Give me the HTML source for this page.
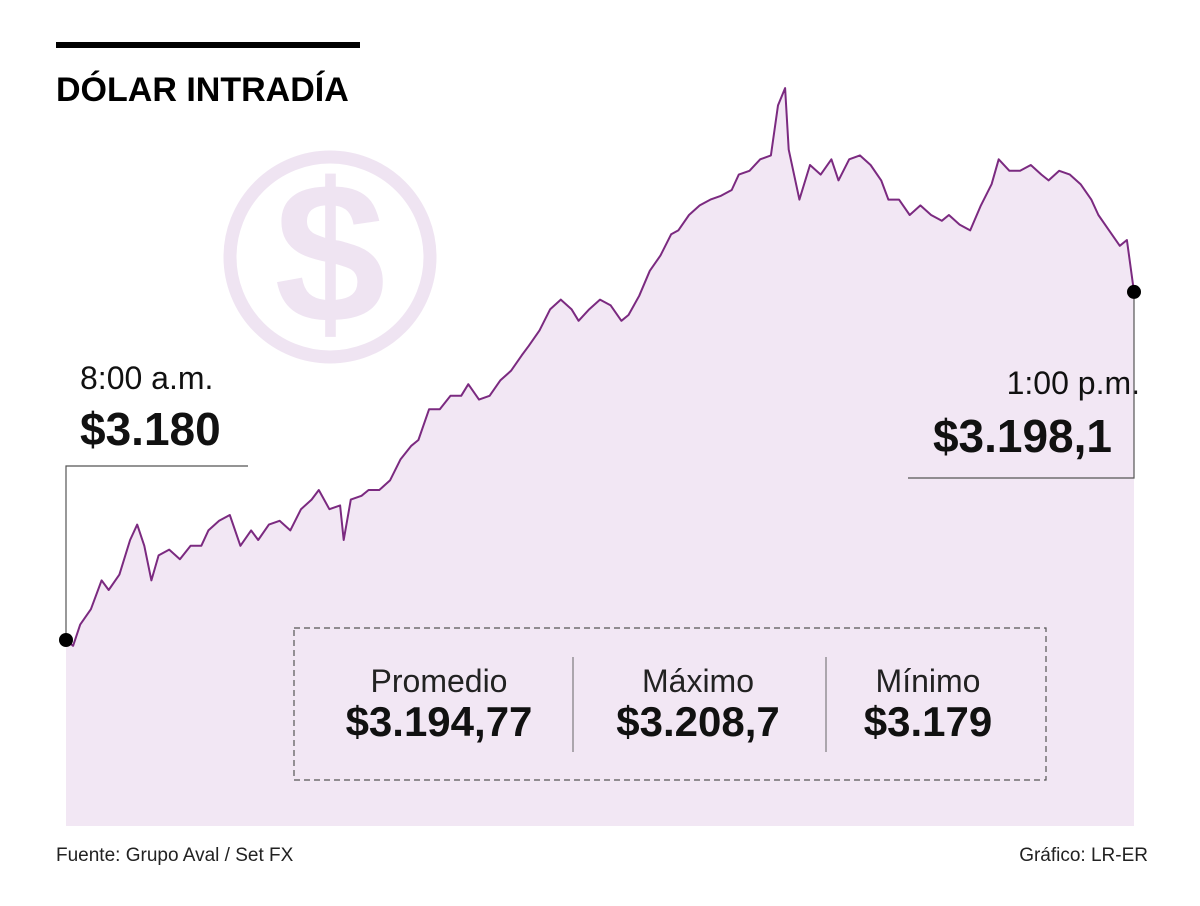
<!DOCTYPE html>
<html><head><meta charset="utf-8">
<style>
html,body{margin:0;padding:0;background:#fff;}
svg{display:block;font-family:"Liberation Sans",sans-serif;}
</style></head>
<body>
<svg id="chart" width="1200" height="906" viewBox="0 0 1200 906" xmlns="http://www.w3.org/2000/svg">
  <rect x="56" y="42" width="304" height="6" fill="#000"/>
  <text x="56" y="101" font-size="34" font-weight="bold" fill="#000">DÓLAR INTRADÍA</text>
  <g>
    <circle cx="330" cy="257" r="100" fill="none" stroke="#efe4f2" stroke-width="13"/>
    <text x="330" y="322" font-size="200" font-weight="bold" fill="#efe4f2" text-anchor="middle">$</text>
  </g>
  <g id="plot"></g>
  <g>
    <text x="80" y="389" font-size="32" fill="#111">8:00 a.m.</text>
    <text x="80" y="445" font-size="46" font-weight="bold" fill="#111">$3.180</text>
    <polyline points="248,466 66,466 66,640" fill="none" stroke="#555" stroke-width="1.2"/>
  </g>
  <g>
    <text x="1140" y="394" font-size="32" fill="#111" text-anchor="end">1:00 p.m.</text>
    <text x="1112" y="452" font-size="46" font-weight="bold" fill="#111" text-anchor="end">$3.198,1</text>
    <polyline points="908,478 1134,478 1134,292" fill="none" stroke="#555" stroke-width="1.2"/>
  </g>
  <g>
    <rect x="294" y="628" width="752" height="152" fill="none" stroke="#555" stroke-width="1.2" stroke-dasharray="6,4"/>
    <line x1="573" y1="657" x2="573" y2="752" stroke="#666" stroke-width="1"/>
    <line x1="826" y1="657" x2="826" y2="752" stroke="#666" stroke-width="1"/>
    <text x="439" y="692" font-size="32" fill="#222" text-anchor="middle">Promedio</text>
    <text x="439" y="736" font-size="42" font-weight="bold" fill="#111" text-anchor="middle">$3.194,77</text>
    <text x="698" y="692" font-size="32" fill="#222" text-anchor="middle">Máximo</text>
    <text x="698" y="736" font-size="42" font-weight="bold" fill="#111" text-anchor="middle">$3.208,7</text>
    <text x="928" y="692" font-size="32" fill="#222" text-anchor="middle">Mínimo</text>
    <text x="928" y="736" font-size="42" font-weight="bold" fill="#111" text-anchor="middle">$3.179</text>
  </g>
  <text x="56" y="861" font-size="19" fill="#222">Fuente: Grupo Aval / Set FX</text>
  <text x="1148" y="861" font-size="19" fill="#222" text-anchor="end">Gráfico: LR-ER</text>
</svg>
<script>
const minutes = [0,2,4,7,10,12,15,18,20,22,24,26,29,32,35,38,40,43,46,49,52,54,57,60,63,66,69,71,74,77,78,80,83,85,88,91,94,97,99,102,105,108,111,113,116,119,122,125,128,130,133,136,139,142,144,147,150,153,156,158,161,164,167,170,172,175,178,181,184,187,189,192,195,198,200,202,203,206,209,212,215,217,220,223,226,229,231,234,237,240,243,246,248,251,254,257,260,262,265,268,271,274,276,279,282,285,288,290,293,296,298,300];
const prices = [3180,3179.7,3180.8,3181.6,3183.1,3182.6,3183.4,3185.2,3186.0,3184.9,3183.1,3184.4,3184.7,3184.2,3184.9,3184.9,3185.7,3186.2,3186.5,3184.9,3185.7,3185.2,3186.0,3186.2,3185.7,3186.8,3187.3,3187.8,3186.8,3187.0,3185.2,3187.3,3187.5,3187.8,3187.8,3188.3,3189.4,3190.1,3190.4,3192.0,3192.0,3192.7,3192.7,3193.3,3192.5,3192.7,3193.5,3194.0,3194.8,3195.3,3196.1,3197.2,3197.7,3197.2,3196.6,3197.2,3197.7,3197.4,3196.6,3196.9,3197.9,3199.2,3200.0,3201.1,3201.3,3202.1,3202.6,3202.9,3203.1,3203.4,3204.2,3204.4,3205.0,3205.2,3207.8,3208.7,3205.5,3202.9,3204.7,3204.2,3205.0,3203.9,3205.0,3205.2,3204.7,3203.9,3202.9,3202.9,3202.1,3202.6,3202.1,3201.8,3202.1,3201.6,3201.3,3202.6,3203.7,3205.0,3204.4,3204.4,3204.7,3204.2,3203.9,3204.4,3204.2,3203.7,3202.9,3202.1,3201.3,3200.5,3200.8,3198.1];

const NS = "http://www.w3.org/2000/svg";
const xScale = m => 66 + (m / 300) * (1134 - 66);
const yScale = v => 640 - (v - 3180) * 19.23;
const baseY = 826;
const plot = document.getElementById('plot');

let pts = minutes.map((m, i) => xScale(m).toFixed(1) + ',' + yScale(prices[i]).toFixed(1));
const area = document.createElementNS(NS, 'path');
area.setAttribute('d', 'M' + xScale(minutes[0]) + ',' + baseY + ' L' + pts.join(' L') + ' L' + xScale(minutes[minutes.length-1]) + ',' + baseY + ' Z');
area.setAttribute('fill', '#f2e7f4');


plot.appendChild(area);

const line = document.createElementNS(NS, 'polyline');
line.setAttribute('points', pts.join(' '));
line.setAttribute('fill', 'none');
line.setAttribute('stroke', '#7b2a80');
line.setAttribute('stroke-width', '2');
line.setAttribute('stroke-linejoin', 'round');


plot.appendChild(line);

[0, minutes.length - 1].forEach((i, k) => {
  const c = document.createElementNS(NS, 'circle');
  c.setAttribute('cx', xScale(minutes[i]));
  c.setAttribute('cy', yScale(prices[i]));
  c.setAttribute('r', '7');
  c.setAttribute('fill', '#000');
  
  
  document.getElementById('chart').appendChild(c);
});
</script>
</body></html>
